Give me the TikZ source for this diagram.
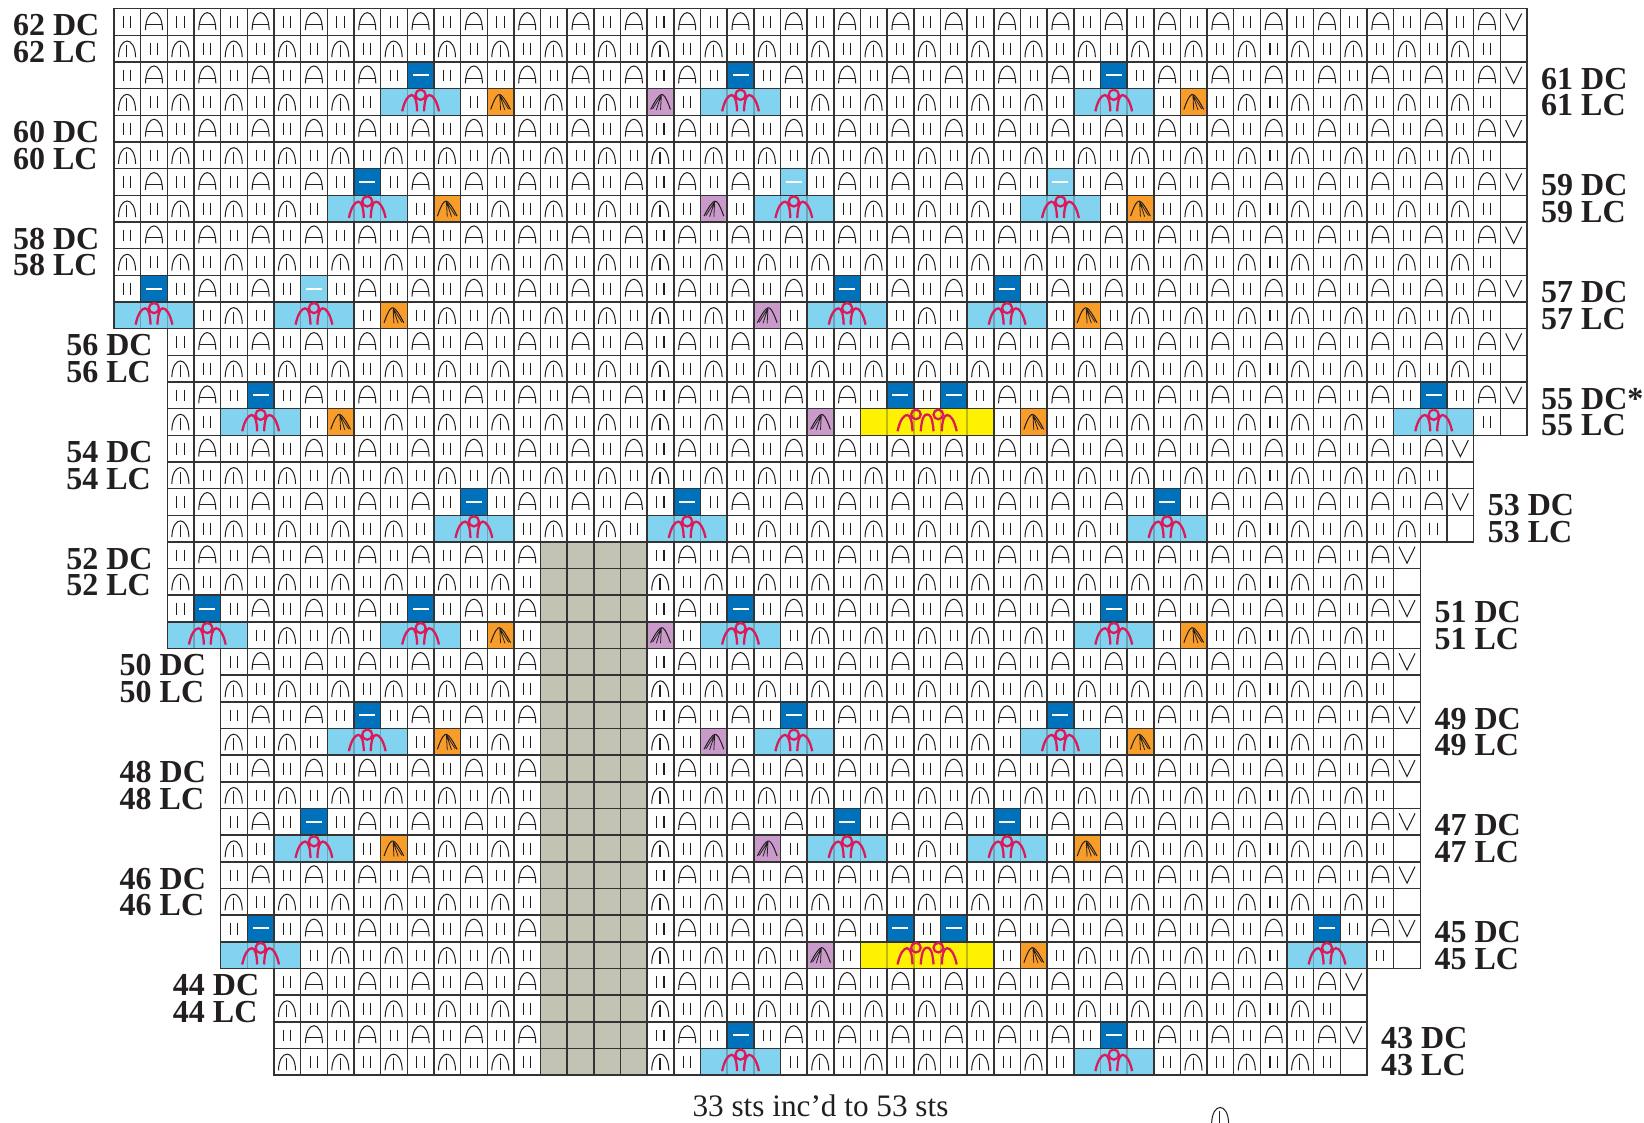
\documentclass[tikz,border=0pt]{standalone}
\usepackage{fontspec}
\setmainfont{Liberation Serif}
\definecolor{ink}{HTML}{231F20}
\definecolor{rule}{HTML}{333333}
\definecolor{deepblue}{HTML}{0072BC}
\definecolor{paleblue}{HTML}{82D3F0}
\definecolor{amber}{HTML}{F99D2A}
\definecolor{lilac}{HTML}{C99ACA}
\definecolor{lemon}{HTML}{FFF200}
\definecolor{stone}{HTML}{C3C3B3}
\definecolor{crimson}{HTML}{DC1A5A}
\def\darkcells{11/2,23/2,37/2,9/6,1/10,27/10,33/10,5/14,29/14,31/14,49/14,13/18,21/18,39/18,
  3/22,11/22,23/22,37/22,9/26,25/26,35/26,7/30,27/30,33/30,5/34,29/34,31/34,45/34,23/38,37/38}
\def\palecells{25/6,35/6,7/10}
\def\shellcells{11/3,23/3,37/3,9/7,25/7,35/7,1/11,7/11,27/11,33/11,5/15,49/15,13/19,21/19,39/19,
  3/23,11/23,23/23,37/23,9/27,25/27,35/27,7/31,27/31,33/31,5/35,45/35,23/39,37/39}
\def\ambercells{14/3,40/3,12/7,38/7,10/11,36/11,8/15,34/15,14/23,40/23,12/27,38/27,10/31,36/31,34/35}
\def\lilaccells{20/3,22/7,24/11,26/15,20/23,22/27,24/31,26/35}
\begin{document}
\begin{tikzpicture}[
  x=0.6cm,y=-0.6cm,
  stitch/.style={draw=ink,line width=0.65pt},
  redline/.style={draw=crimson,line width=1.45pt},
  gridline/.style={draw=rule,line width=0.95pt,line cap=rect},
  rowlabel/.style={anchor=base west,inner sep=0pt,text=ink,font=\fontsize{20.5}{20.5}\selectfont\bfseries},
  pics/bars/.style={code={
    \draw[stitch] (0.36,0.29) -- (0.36,0.73) (0.63,0.29) -- (0.63,0.73);}},
  pics/archbar/.style={code={
    \draw[stitch] (0.18,0.8) .. controls (0.2,-0.07) and (0.8,-0.07) .. (0.82,0.8);
    \draw[stitch] (0.19,0.6) -- (0.81,0.6);}},
  pics/archstem/.style={code={
    \draw[stitch] (0.17,0.82) .. controls (0.19,0.01) and (0.79,0.01) .. (0.81,0.82);
    \draw[stitch] (0.48,0.36) -- (0.48,0.82);}},
  pics/slip/.style={code={
    \draw[stitch] (0.2,0.18) -- (0.5,0.8) -- (0.8,0.18);}},
  pics/fan/.style={code={
    \draw[stitch] (0.13,0.78) .. controls (0.3,0.28) and (0.4,0.2) .. (0.47,0.22)
      .. controls (0.56,0.24) and (0.7,0.45) .. (0.87,0.78);
    \draw[stitch,line width=0.5pt] (0.47,0.24) -- (0.5,0.8) (0.47,0.24) -- (0.66,0.8) (0.47,0.24) -- (0.8,0.76);}},
  pics/shell/.style={code={
    \draw[redline] (-0.19,0.85) .. controls (-0.1,0.42) and (0.05,0.24) .. (0.17,0.24)
      .. controls (0.3,0.24) and (0.36,0.5) .. (0.37,0.85);
    \draw[redline] (1.19,0.85) .. controls (1.1,0.42) and (0.95,0.24) .. (0.83,0.24)
      .. controls (0.7,0.24) and (0.64,0.5) .. (0.63,0.85);
    \draw[redline] (0.5,0.23) circle[radius=0.19];}},
  pics/doubleshell/.style={code={
    \draw[redline] (-0.61,0.85) .. controls (-0.52,0.42) and (-0.37,0.24) .. (-0.25,0.24)
      .. controls (-0.12,0.24) and (-0.06,0.5) .. (-0.05,0.85);
    \draw[redline] (0.26,0.85) .. controls (0.3,0.3) and (0.4,0.22) .. (0.5,0.22)
      .. controls (0.6,0.22) and (0.7,0.3) .. (0.74,0.85);
    \draw[redline] (1.61,0.85) .. controls (1.52,0.42) and (1.37,0.24) .. (1.25,0.24)
      .. controls (1.12,0.24) and (1.06,0.5) .. (1.05,0.85);
    \draw[redline] (0.08,0.22) circle[radius=0.18] (0.92,0.22) circle[radius=0.18];}}
]
\useasboundingbox (-4.276,-0.326) rectangle (57.389,41.76);

% stitches, row by row; the coloured cells are laid over them afterwards
\foreach \topline/\botline/\lft/\rgt in {0/11/0/53,12/15/2/53,16/19/2/51,20/23/2/49,24/35/4/49,36/39/6/47}{
  \pgfmathtruncatemacro\last{\rgt-1}
  \foreach \r in {\topline,...,\botline}{
    \foreach \c in {\lft,...,\last}{
      \ifodd\r
        \ifnum\c=\last\else
          \ifodd\c \pic at (\c,\r) {bars}; \else \pic at (\c,\r) {archstem}; \fi
        \fi
      \else
        \ifnum\c=\last \pic at (\c,\r) {slip};
        \else
          \ifodd\c \pic at (\c,\r) {archbar}; \else \pic at (\c,\r) {bars}; \fi
        \fi
      \fi
    }
    % one row of the grid
    \draw[gridline] (\lft,\r) -- (\rgt,\r) (\lft,\r+1) -- (\rgt,\r+1);
    \foreach \c in {\lft,...,\rgt} {\draw[gridline] (\c,\r) -- (\c,\r+1);}
  }
}

\fill[stone] (16,20) rectangle (20,40);
\foreach \c/\r in \darkcells {\fill[deepblue] (\c,\r) rectangle +(1,1);}
\foreach \c/\r in \palecells {\fill[paleblue] (\c,\r) rectangle +(1,1);}
\foreach \c/\r in \ambercells {\fill[amber] (\c,\r) rectangle +(1,1);}
\foreach \c/\r in \lilaccells {\fill[lilac] (\c,\r) rectangle +(1,1);}

% the coloured cells hid the lines round them, so those come back here
\foreach \c/\r in \darkcells {\draw[gridline] (\c,\r) rectangle +(1,1);}
\foreach \c/\r in \palecells {\draw[gridline] (\c,\r) rectangle +(1,1);}
\foreach \c/\r in \ambercells {\draw[gridline] (\c,\r) rectangle +(1,1);}
\foreach \c/\r in \lilaccells {\draw[gridline] (\c,\r) rectangle +(1,1);}
\foreach \c in {16,...,20} {\draw[gridline] (\c,20) -- (\c,40);}
\foreach \r in {20,...,40} {\draw[gridline] (16,\r) -- (20,\r);}

% the wide cells keep only a trace of the grid
\foreach \c/\r in \shellcells {
  \fill[paleblue] (\c-1,\r) rectangle +(3,1);
  \draw[gridline] (\c-1,\r) rectangle +(3,1);
  \draw[gridline,draw opacity=0.3] (\c,\r) -- (\c,\r+1) (\c+1,\r) -- (\c+1,\r+1);
  \pic at (\c,\r) {shell};
}
\foreach \r in {15,35} {
  \fill[lemon] (28,\r) rectangle +(5,1);
  \draw[gridline] (28,\r) rectangle +(5,1);
  \draw[gridline,draw opacity=0.3] (29,\r) -- (29,\r+1) (30,\r) -- (30,\r+1) (31,\r) -- (31,\r+1) (32,\r) -- (32,\r+1);
  \pic at (30,\r) {doubleshell};
}
\foreach \c/\r in \darkcells {\draw[white,line width=1.3pt] (\c+0.2,\r+0.5) -- (\c+0.8,\r+0.5);}
\foreach \c/\r in \palecells {\draw[white,line width=1.3pt] (\c+0.2,\r+0.5) -- (\c+0.8,\r+0.5);}
\foreach \c/\r in \ambercells {\pic at (\c,\r) {fan};}
\foreach \c/\r in \lilaccells {\pic[xscale=-1] at (\c+1,\r) {fan};}

\foreach \n/\r/\edge in {62/0/0,60/4/0,58/8/0,56/12/2,54/16/2,52/20/2,50/24/4,48/28/4,46/32/4,44/36/6}{
  \node[rowlabel] (dc\n) at (\edge-3.8,\r+1.02) {\n\ DC};
  \node[rowlabel] (lc\n) at (\edge-3.8,\r+2.02) {\n\ LC};
}
\foreach \n/\r/\edge/\mark in {61/2/53/,59/6/53/,57/10/53/,55/14/53/*,53/18/51/,51/22/49/,49/26/49/,47/30/49/,45/34/49/,43/38/47/}{
  \node[rowlabel] (dc\n) at (\edge+0.52,\r+1.02) {\n\ DC\mark};
  \node[rowlabel] (lc\n) at (\edge+0.52,\r+2.02) {\n\ LC};
}

\node[anchor=base,inner sep=0pt,text=ink,font=\fontsize{20}{20}\selectfont] (increase) at (26.5,41.54)
  {33 sts inc’d to 53 sts};
\pic at (41,41) {archstem};
\end{tikzpicture}
\end{document}
